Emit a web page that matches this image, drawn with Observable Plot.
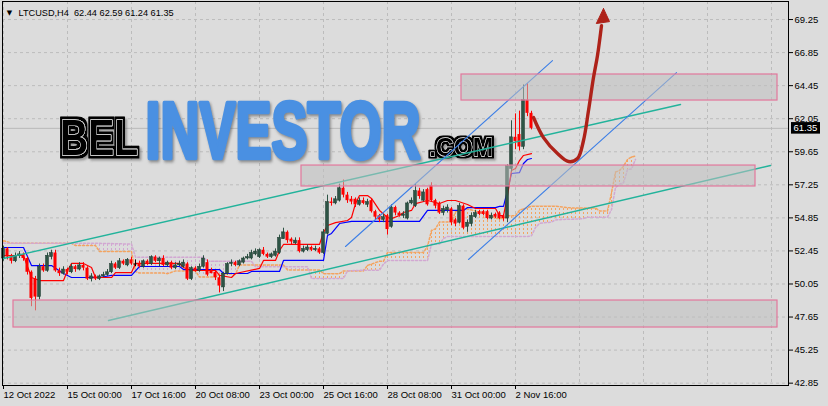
<!DOCTYPE html>
<html><head><meta charset="utf-8">
<script src="https://cdn.jsdelivr.net/npm/d3@7"></script>
<script src="https://cdn.jsdelivr.net/npm/@observablehq/plot@0.6"></script>
<style>
html,body{margin:0;padding:0;background:#dcdcdc;}
#chart{width:828px;height:406px;overflow:hidden;}
</style></head><body><div id="chart"></div>
<script>
// ---------- data ----------
const symbolLabel = "LTCUSD,H4";
const headerOHLC = [62.44, 62.59, 61.24, 61.35];
const lastPrice = 61.35;

const candleOpen  = [51.9,52.6,52.0,51.7,52.1,52.2,51.9,50.9,50.4,49.1,51.3,51.0,52.0,52.3,51.0,50.8,51.1,50.9,51.3,51.1,51.4,51.2,50.4,50.6,50.4,50.6,50.7,50.9,51.5,51.2,51.7,51.4,51.8,51.5,51.5,51.3,51.7,51.5,52.0,51.7,51.9,51.4,51.6,51.2,51.4,51.3,51.5,50.4,51.2,51.0,51.3,51.6,51.0,50.9,50.5,49.8,50.8,51.5,51.6,51.4,51.6,51.9,51.9,52.2,52.0,52.5,52.2,52.0,52.1,52.3,53.3,53.8,53.3,53.0,53.2,52.4,52.5,52.7,52.5,52.6,52.3,53.7,56.0,55.9,56.1,57.0,56.5,56.2,56.2,55.8,56.1,55.8,56.1,55.3,55.0,54.7,55.0,54.2,55.6,55.2,55.0,54.8,55.9,55.7,56.8,56.1,56.9,57.2,56.1,55.9,55.2,55.4,55.5,54.7,54.5,55.7,54.2,54.4,54.9,55.3,55.3,55.3,54.8,55.1,55.2,55.0,54.8,58.4,60.7,60.9,60.0,63.4,62.44];
const candleHigh  = [52.8,52.7,52.2,52.3,52.4,52.3,52.0,51.0,50.6,51.5,51.5,52.3,52.5,52.5,51.2,51.3,51.2,51.5,51.4,51.6,51.6,51.3,50.8,50.7,50.7,50.9,51.1,51.7,51.6,51.9,51.8,51.9,52.0,51.8,51.7,51.8,51.8,52.1,52.1,52.0,52.1,51.7,51.7,51.6,51.7,51.8,51.6,51.3,51.3,51.5,52.1,51.8,51.2,51.0,50.6,50.9,51.6,51.8,51.7,51.8,52.0,52.2,52.5,52.6,52.6,52.7,52.3,52.3,52.6,53.6,54.1,53.9,53.4,53.4,53.4,52.8,52.9,52.8,52.8,52.7,54.0,56.5,56.3,56.4,57.3,57.6,56.7,56.4,56.3,56.3,56.3,56.2,56.2,55.4,55.1,55.1,55.1,55.8,55.7,55.3,55.3,56.0,56.3,57.3,57.0,56.9,57.0,57.4,56.2,56.0,55.7,55.8,55.6,54.8,55.9,55.8,54.7,55.2,55.4,55.4,55.4,55.4,55.2,55.2,55.3,55.1,58.7,61.9,62.4,62.6,64.5,64.6,62.59];
const candleLow   = [51.7,51.8,51.5,51.6,51.9,51.7,50.7,48.4,48.1,48.9,50.9,50.9,51.8,50.9,50.6,50.7,50.7,50.8,50.9,51.0,51.0,50.3,50.2,50.3,50.3,50.5,50.6,50.8,51.1,51.1,51.4,51.3,51.4,51.3,51.2,51.2,51.4,51.4,51.6,51.3,51.3,51.3,51.1,51.1,51.3,51.2,50.3,50.3,50.9,50.9,51.2,50.6,50.8,50.3,49.4,49.5,50.7,51.3,51.3,51.3,51.5,51.8,51.8,52.1,51.9,52.1,51.9,51.9,52.0,52.2,53.3,53.0,52.9,52.9,52.3,52.3,52.4,52.4,52.4,52.2,52.2,53.6,55.7,55.8,56.0,56.3,55.9,55.8,55.6,55.7,55.8,55.6,55.2,54.7,54.5,54.5,53.6,54.1,55.0,54.9,54.8,54.7,55.8,55.6,56.2,56.0,55.7,56.0,55.5,55.1,55.0,55.2,54.3,54.2,54.4,54.0,53.8,54.2,54.8,55.0,55.0,54.7,54.7,54.8,54.7,54.6,54.5,58.2,59.8,59.7,59.8,62.2,61.24];
const candleClose = [52.6,52.0,51.7,52.1,52.2,51.9,50.9,49.0,49.1,51.3,51.0,52.1,52.3,51.0,50.8,51.1,50.9,51.3,51.1,51.4,51.2,50.4,50.6,50.4,50.6,50.7,50.9,51.5,51.2,51.7,51.5,51.8,51.5,51.5,51.3,51.7,51.5,52.0,51.7,51.9,51.4,51.6,51.2,51.4,51.5,51.6,50.4,51.2,51.0,51.3,51.9,50.7,50.8,50.5,49.9,50.8,51.5,51.6,51.4,51.7,51.9,52.0,52.3,52.4,52.5,52.2,52.0,52.2,52.4,53.4,53.8,53.2,53.1,53.2,52.4,52.6,52.7,52.5,52.6,52.3,53.8,56.0,55.9,56.2,57.0,56.5,56.1,56.0,55.8,56.1,55.9,56.0,55.3,54.9,54.7,54.9,54.0,55.6,55.2,55.0,55.1,55.9,56.1,56.8,56.4,56.7,55.8,56.1,55.7,55.2,55.5,55.6,54.5,54.4,55.7,54.1,54.5,55.0,55.2,55.1,55.1,54.8,55.0,54.9,54.8,54.8,58.6,60.7,60.4,60.0,63.4,62.44,61.35];

// Ichimoku lines, read as vertices (bar index, price)
const tenkanIdx = [0,5,7,9,15,16,17,20,22,23,27,28,32,33,44,45,47,53,54,57,58,64,65,68,69,70,79,80,81,83,86,87,88,89,91,92,94,96,97,99,100,102,103,106,107,109,111,113,116,118,121,123,124,125,126,127,128,129,130,132];
const tenkanVal = [52.12,52.12,50.52,50.30,50.30,51.03,51.54,51.54,51.25,50.52,50.52,50.88,50.88,51.54,51.54,51.25,51.03,51.03,50.67,50.52,50.81,51.18,51.76,51.76,52.48,52.92,52.92,53.79,54.30,54.51,54.66,54.88,55.89,56.47,56.47,56.26,55.39,54.88,54.80,55.02,55.24,55.39,55.89,56.11,56.04,55.89,56.11,56.11,55.82,55.53,55.53,55.53,55.02,55.02,56.47,58.29,58.43,59.01,59.38,59.52];
const kijunIdx = [0,5,7,12,15,17,24,27,32,34,44,45,54,55,61,62,69,70,80,81,82,84,87,104,106,115,116,123,124,125,126,127,129,130,131,132];
const kijunVal = [52.70,52.70,51.39,51.39,50.81,50.52,50.52,50.67,50.67,51.32,51.32,51.10,51.10,50.81,50.81,50.96,50.96,51.76,51.76,53.57,53.72,54.44,54.59,54.59,55.39,55.39,55.60,55.60,55.68,55.68,56.84,58.07,58.14,58.80,59.09,59.16];
const cloudIdx = [0,2,17,18,23,24,32,33,34,40,41,43,48,49,50,51,53,54,58,59,62,63,70,71,76,77,79,80,84,85,86,90,91,94,95,96,105,106,107,108,109,110,111,112,113,115,116,120,122,123,125,126,128,129,131,132,133,134,137,138,141,142,145,146,148,149,151,152,153,154,155,156,157,158];
const spanA = [53.20,53.00,53.00,52.84,52.84,52.41,52.41,50.95,50.85,50.85,50.80,51.00,51.00,50.55,50.55,50.55,50.55,50.78,50.78,51.43,51.43,51.43,51.43,51.07,51.07,51.07,51.07,50.80,50.80,51.00,51.00,51.00,51.40,51.70,51.70,52.34,52.34,52.78,53.93,54.06,54.55,54.55,54.55,54.55,55.30,55.50,55.50,55.20,55.00,54.80,54.80,55.00,55.00,55.40,55.60,55.70,55.70,55.70,55.70,55.70,55.60,55.57,55.57,55.57,55.57,55.35,55.35,56.65,58.18,58.28,58.60,59.09,59.27,59.34];
const spanB = [53.00,53.00,53.00,53.00,53.00,53.00,52.95,52.00,52.00,52.00,52.00,52.00,52.00,52.00,52.00,51.70,51.70,51.70,51.70,51.70,51.70,51.30,51.30,51.30,51.30,50.45,50.45,50.45,50.45,50.45,51.00,51.05,51.05,51.05,51.50,51.75,51.75,51.75,52.95,52.95,52.95,53.35,53.50,53.50,53.50,53.50,53.50,53.50,53.50,53.50,53.50,53.50,53.50,53.50,53.50,53.55,54.15,54.45,54.55,54.70,54.75,54.75,54.80,54.90,54.90,54.90,54.90,55.45,57.05,57.30,57.40,58.35,58.40,59.10];

// drawn objects (bar index, price)
const trendNames = ["teal-upper","teal-upper","teal-lower","teal-lower","blue-upper","blue-upper","blue-lower","blue-lower"];
const trendIdx   = [0, 169.25, 26.25, 191.75, 85.5, 137.25, 116.25, 168.25];
const trendPrice = [51.90, 63.08, 47.40, 58.65, 52.77, 66.27, 51.83, 65.40];
const zoneIdx1   = [114.5, 74.5, 2.5];
const zoneIdx2   = [193.5, 188, 193.5];
const zoneLow    = [63.37, 57.13, 46.89];
const zoneHigh   = [65.26, 58.65, 48.85];
const arrowIdx   = [132.5, 135, 138.5, 141.25, 143.5, 145, 146.25, 147.5, 148.5, 149.5];
const arrowPrice = [62.14, 60.68, 59.52, 58.94, 59.16, 60.47, 62.64, 65.04, 66.64, 68.81];
const headIdx    = [150, 148.2, 151.5];
const headPrice  = [70.05, 68.96, 69.10];

// axes
const yTicks = [69.25,66.85,64.45,62.05,59.65,57.25,54.85,52.45,50.05,47.65,45.25,42.85];
const xTickIdx = [0,16,32,48,64,80,96,112,128];
const xLabels = ["12 Oct 2022","15 Oct 00:00","17 Oct 16:00","20 Oct 08:00","23 Oct 00:00","25 Oct 16:00","28 Oct 08:00","31 Oct 00:00","2 Nov 16:00"];
const gridIdx = [0,16,32,48,64,80,96,112,128,144,160,176,192];
const logoWords = ["BEL","INVESTOR",".COM"];

// ---------- tables ----------
const candles = candleOpen.map((o, i) => ({i, o, h: candleHigh[i], l: candleLow[i], c: candleClose[i]}));
const ups = candles.filter(d => d.c > d.o), downs = candles.filter(d => d.c < d.o), dojis = candles.filter(d => d.c === d.o);
const tenkan = tenkanIdx.map((i, k) => ({i, v: tenkanVal[k]}));
const kijun = kijunIdx.map((i, k) => ({i, v: kijunVal[k]}));
const cloud = cloudIdx.map((i, k) => ({i, a: spanA[k], b: spanB[k]}));
const trends = trendIdx.map((i, k) => ({i, p: trendPrice[k], z: trendNames[k]}));
const zones = zoneIdx1.map((i1, k) => ({i1, i2: zoneIdx2[k], lo: zoneLow[k], hi: zoneHigh[k]}));
const arrow = arrowIdx.map((i, k) => ({i, p: arrowPrice[k]}));
const head = headIdx.map((i, k) => ({i, p: headPrice[k]}));

const xDomain = [-0.25, 196.25];
const GREEN = "#2d5445", RED = "#ff0000", HALF = 0.38;
const FONT = "Liberation Sans, Arial, sans-serif";

const logo = (word, dx, dy, size, o) => Plot.text([word], {
  text: d => d, frameAnchor: "top-left", dx, dy, textAnchor: "start", lineAnchor: "bottom",
  fontSize: size, fontWeight: "bold", fontFamily: FONT, ...o
});

const chart = Plot.plot({
  width: 828, height: 406,
  marginLeft: 2, marginRight: 40, marginTop: 1, marginBottom: 21,
  x: {type: "linear", domain: xDomain, range: [2, 788]},
  y: {type: "linear", domain: [42.68, 70.56], range: [385, 1]},
  style: {background: "#dcdcdc", fontFamily: FONT, fontSize: "9.5px", color: "#000", overflow: "visible"},
  marks: [
    Plot.gridX(gridIdx, {stroke: "#bcbcbc", strokeOpacity: 1, strokeDasharray: "3,3"}),
    Plot.gridY(yTicks, {stroke: "#bcbcbc", strokeOpacity: 1, strokeDasharray: "3,3"}),
    // Ichimoku cloud
    Plot.areaY(cloud, {x: "i", y1: "b", y2: d => Math.max(d.a, d.b), fill: "url(#hatchUp)"}),
    Plot.areaY(cloud, {x: "i", y1: "a", y2: d => Math.max(d.a, d.b), fill: "url(#hatchDn)"}),
    Plot.line(cloud, {x: "i", y: "a", stroke: "#f4a460", strokeDasharray: "2,2"}),
    Plot.line(cloud, {x: "i", y: "b", stroke: "#d2a8d2", strokeDasharray: "2,2"}),
    Plot.line(kijun, {x: "i", y: "v", stroke: "#0000ff", strokeWidth: 1.2}),
    Plot.line(tenkan, {x: "i", y: "v", stroke: "#ff0000", strokeWidth: 1.2}),
    Plot.ruleY([lastPrice], {stroke: "#b9b9b9"}),
    // candles
    Plot.ruleX(ups, {x: "i", y1: "l", y2: "h", stroke: GREEN}),
    Plot.ruleX(downs, {x: "i", y1: "l", y2: "h", stroke: RED}),
    Plot.ruleX(dojis, {x: "i", y1: "l", y2: "h", stroke: "#000"}),
    Plot.ruleY(dojis, {y: "c", x1: d => d.i - HALF, x2: d => d.i + HALF, stroke: "#000"}),
    Plot.rect(ups, {x1: d => d.i - HALF, x2: d => d.i + HALF, y1: "o", y2: "c", fill: GREEN, stroke: "#1f3a30", strokeWidth: 0.5}),
    Plot.rect(downs, {x1: d => d.i - HALF, x2: d => d.i + HALF, y1: "o", y2: "c", fill: RED}),
    // watermark
    logo(logoWords[0], 57.5, 153, 50, {fill: "#000", stroke: "#fff", strokeWidth: 1.2}),
    logo(logoWords[1], 143, 156, 80, {fill: "#4a90e2", stroke: "#4a90e2", strokeWidth: 4.5}),
    logo(logoWords[2], 426.8, 154.7, 25.5, {fill: "#000", stroke: "#fff", strokeWidth: 0.9}),
    // trend lines
    Plot.line(trends.filter(d => d.z.startsWith("teal")), {x: "i", y: "p", z: "z", stroke: "#22b39b", strokeWidth: 1.4}),
    Plot.line(trends.filter(d => d.z.startsWith("blue")), {x: "i", y: "p", z: "z", stroke: "#3d7fe6", strokeWidth: 1.1}),
    // zones
    Plot.rect(zones, {x1: "i1", x2: "i2", y1: "lo", y2: "hi", fill: "#c0c0c0", fillOpacity: 0.55, stroke: "#e2779c", strokeWidth: 1.2, ariaLabel: "zones"}),
    // arrow
    Plot.line(arrow, {x: "i", y: "p", curve: "catmull-rom", stroke: "#ae2219", strokeWidth: 3.4, strokeLinecap: "round"}),
    Plot.line(head.concat(head.slice(0, 1)), {x: "i", y: "p", fill: "#ae2219", stroke: "#ae2219", strokeWidth: 1, strokeLinejoin: "round"}),
    // frame, axes
    Plot.frame({stroke: "#000"}),
    Plot.axisY(yTicks, {anchor: "right", label: null, tickSize: 4, tickPadding: 2, tickFormat: d3.format(".2f"), fontSize: 9.5}),
    Plot.axisX(xTickIdx, {anchor: "bottom", label: null, tickSize: 4, tickPadding: 2, textAnchor: "start", tickFormat: d => xLabels[xTickIdx.indexOf(d)], fontSize: 9.5}),
    // last price tag
    Plot.rect([lastPrice], {x1: () => xDomain[1] + 0.75, x2: () => xDomain[1] + 8, y1: d => d - 0.42, y2: d => d + 0.42, fill: "#000"}),
    Plot.text([lastPrice], {x: () => xDomain[1] + 1.25, y: d => d, text: d => d.toFixed(2), textAnchor: "start", fill: "#fff", fontSize: 9.5}),
    // header
    Plot.text(["\u25BC"], {text: d => d, frameAnchor: "top-left", dx: 7, dy: 11, textAnchor: "middle", lineAnchor: "middle", fontSize: 7, fontFamily: "DejaVu Sans"}),
    Plot.text([symbolLabel + "\u00A0\u00A0" + headerOHLC.map(v => v.toFixed(2)).join(" ")], {text: d => d, frameAnchor: "top-left", dx: 16, dy: 14, textAnchor: "start", lineAnchor: "bottom", fontSize: 9.2, fontFamily: FONT})
  ]
});

document.getElementById("chart").appendChild(chart);

const svg = d3.select(chart);
const defs = svg.insert("defs", ":first-child");
// hatching for the cloud
[["hatchUp", "#f4a460"], ["hatchDn", "#d2a8d2"]].forEach(([id, col]) => {
  const p = defs.append("pattern").attr("id", id).attr("patternUnits", "userSpaceOnUse")
    .attr("width", 4).attr("height", 4).attr("x", 3).attr("y", 0);
  p.append("rect").attr("x", 0).attr("y", 0).attr("width", 1).attr("height", 2).attr("fill", col);
});
// outlined-letter filters for the logo
function outlineFilter(id, r) {
  const f = defs.append("filter").attr("id", id).attr("x", "-20%").attr("y", "-30%").attr("width", "140%").attr("height", "160%");
  f.append("feMorphology").attr("in", "SourceAlpha").attr("operator", "dilate").attr("radius", r).attr("result", "dil");
  f.append("feGaussianBlur").attr("in", "dil").attr("stdDeviation", 1.2).attr("result", "bl");
  f.append("feOffset").attr("in", "bl").attr("dx", 2).attr("dy", 2).attr("result", "off");
  f.append("feFlood").attr("flood-color", "#555").attr("flood-opacity", 0.5).attr("result", "fc");
  f.append("feComposite").attr("in", "fc").attr("in2", "off").attr("operator", "in").attr("result", "shadow");
  f.append("feFlood").attr("flood-color", "#000").attr("result", "bk");
  f.append("feComposite").attr("in", "bk").attr("in2", "dil").attr("operator", "in").attr("result", "outline");
  const m = f.append("feMerge");
  m.append("feMergeNode").attr("in", "shadow");
  m.append("feMergeNode").attr("in", "outline");
  m.append("feMergeNode").attr("in", "SourceGraphic");
}
outlineFilter("outlineBig", [3, 2.5]);
outlineFilter("outlineSmall", [2.2, 1.8]);

// squeeze the logo words horizontally to the widths seen in the picture
const logoLen = {"BEL": 78, "INVESTOR": 275, ".COM": 64};
const logoFilter = {"BEL": "url(#outlineBig)", "INVESTOR": "drop-shadow(2px 2px 1.5px rgba(70,70,70,0.55))", ".COM": "url(#outlineSmall)"};
svg.selectAll("text").each(function() {
  const t = this.textContent;
  if (!(t in logoLen)) return;
  const natural = this.getComputedTextLength();
  const bb = this.getBBox();
  const s = logoLen[t] / natural;
  const prev = this.getAttribute("transform") || "";
  this.setAttribute("transform", `${prev} translate(${bb.x},0) scale(${s},1) translate(${-bb.x},0)`);
  this.style.filter = logoFilter[t];
});
svg.selectAll('g[aria-label="zones"]').style("filter", "drop-shadow(0px 0px 1.5px rgba(0,0,0,0.35))");
</script></body></html>
